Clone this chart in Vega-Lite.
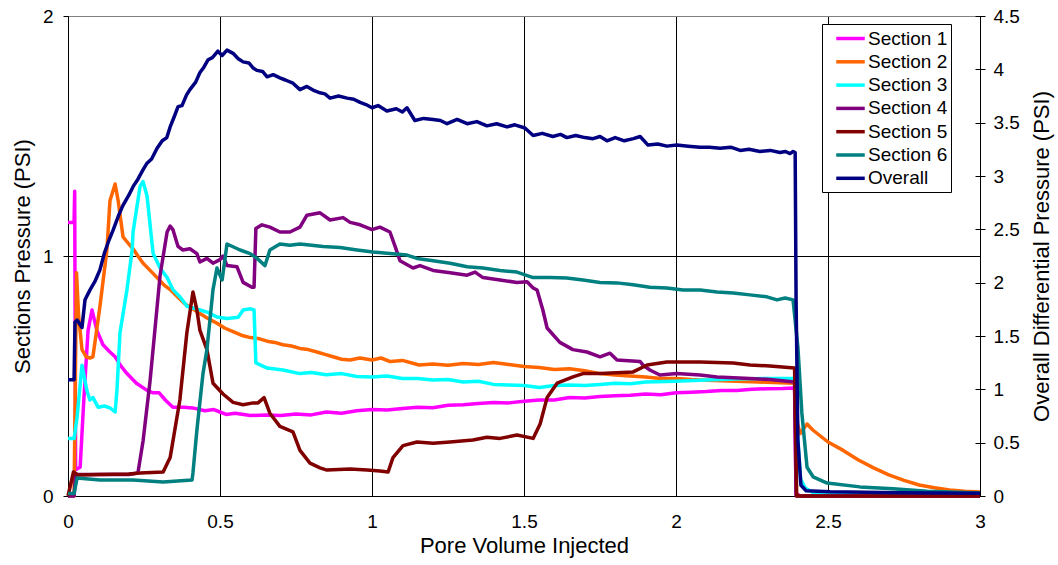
{
  "$schema": "https://vega.github.io/schema/vega-lite/v6.json",
  "width": 912,
  "height": 480,
  "autosize": {"type": "none"},
  "padding": {"left": 68, "top": 16, "right": 78, "bottom": 69},
  "background": "white",
  "config": {
    "view": {"stroke": null},
    "font": "Liberation Sans",
    "axis": {
      "labelFont": "Liberation Sans",
      "titleFont": "Liberation Sans",
      "labelFontSize": 19,
      "titleFontSize": 22,
      "titleFontWeight": "normal",
      "labelColor": "#000",
      "titleColor": "#000",
      "domainColor": "#000",
      "tickColor": "#000"
    },
    "legend": {
      "labelFont": "Liberation Sans",
      "labelFontSize": 19,
      "labelColor": "#000"
    }
  },
  "datasets": {
    "sections": [
      {"series": "Section 1", "pv": 0, "psi": 1.14},
      {"series": "Section 1", "pv": 0.02, "psi": 1.14},
      {"series": "Section 1", "pv": 0.022, "psi": 1.27},
      {"series": "Section 1", "pv": 0.025, "psi": 0.11},
      {"series": "Section 1", "pv": 0.04, "psi": 0.12},
      {"series": "Section 1", "pv": 0.052, "psi": 0.4},
      {"series": "Section 1", "pv": 0.066, "psi": 0.69},
      {"series": "Section 1", "pv": 0.079, "psi": 0.775},
      {"series": "Section 1", "pv": 0.095, "psi": 0.69},
      {"series": "Section 1", "pv": 0.115, "psi": 0.63},
      {"series": "Section 1", "pv": 0.138, "psi": 0.6},
      {"series": "Section 1", "pv": 0.155, "psi": 0.58},
      {"series": "Section 1", "pv": 0.175, "psi": 0.54},
      {"series": "Section 1", "pv": 0.194, "psi": 0.51},
      {"series": "Section 1", "pv": 0.225, "psi": 0.47},
      {"series": "Section 1", "pv": 0.26, "psi": 0.44},
      {"series": "Section 1", "pv": 0.28, "psi": 0.43},
      {"series": "Section 1", "pv": 0.3, "psi": 0.43},
      {"series": "Section 1", "pv": 0.32, "psi": 0.4},
      {"series": "Section 1", "pv": 0.345, "psi": 0.37},
      {"series": "Section 1", "pv": 0.38, "psi": 0.37},
      {"series": "Section 1", "pv": 0.41, "psi": 0.367},
      {"series": "Section 1", "pv": 0.45, "psi": 0.355},
      {"series": "Section 1", "pv": 0.48, "psi": 0.36},
      {"series": "Section 1", "pv": 0.5, "psi": 0.35},
      {"series": "Section 1", "pv": 0.52, "psi": 0.34},
      {"series": "Section 1", "pv": 0.55, "psi": 0.345},
      {"series": "Section 1", "pv": 0.6, "psi": 0.335},
      {"series": "Section 1", "pv": 0.65, "psi": 0.338},
      {"series": "Section 1", "pv": 0.7, "psi": 0.335},
      {"series": "Section 1", "pv": 0.75, "psi": 0.342},
      {"series": "Section 1", "pv": 0.8, "psi": 0.338},
      {"series": "Section 1", "pv": 0.85, "psi": 0.35},
      {"series": "Section 1", "pv": 0.9, "psi": 0.345},
      {"series": "Section 1", "pv": 0.95, "psi": 0.355},
      {"series": "Section 1", "pv": 1.0, "psi": 0.36},
      {"series": "Section 1", "pv": 1.05, "psi": 0.358},
      {"series": "Section 1", "pv": 1.1, "psi": 0.365},
      {"series": "Section 1", "pv": 1.15, "psi": 0.37},
      {"series": "Section 1", "pv": 1.2, "psi": 0.368},
      {"series": "Section 1", "pv": 1.25, "psi": 0.378},
      {"series": "Section 1", "pv": 1.3, "psi": 0.38},
      {"series": "Section 1", "pv": 1.35, "psi": 0.385},
      {"series": "Section 1", "pv": 1.4, "psi": 0.39},
      {"series": "Section 1", "pv": 1.45, "psi": 0.388},
      {"series": "Section 1", "pv": 1.5, "psi": 0.395},
      {"series": "Section 1", "pv": 1.55, "psi": 0.4},
      {"series": "Section 1", "pv": 1.6, "psi": 0.4},
      {"series": "Section 1", "pv": 1.65, "psi": 0.41},
      {"series": "Section 1", "pv": 1.7, "psi": 0.408},
      {"series": "Section 1", "pv": 1.75, "psi": 0.415},
      {"series": "Section 1", "pv": 1.8, "psi": 0.418},
      {"series": "Section 1", "pv": 1.85, "psi": 0.42},
      {"series": "Section 1", "pv": 1.9, "psi": 0.425},
      {"series": "Section 1", "pv": 1.95, "psi": 0.422},
      {"series": "Section 1", "pv": 2.0, "psi": 0.43},
      {"series": "Section 1", "pv": 2.05, "psi": 0.432},
      {"series": "Section 1", "pv": 2.1, "psi": 0.435},
      {"series": "Section 1", "pv": 2.15, "psi": 0.44},
      {"series": "Section 1", "pv": 2.2, "psi": 0.44},
      {"series": "Section 1", "pv": 2.25, "psi": 0.445},
      {"series": "Section 1", "pv": 2.3, "psi": 0.447},
      {"series": "Section 1", "pv": 2.35, "psi": 0.448},
      {"series": "Section 1", "pv": 2.39, "psi": 0.45},
      {"series": "Section 1", "pv": 2.395, "psi": 0.01},
      {"series": "Section 1", "pv": 2.41, "psi": 0.0},
      {"series": "Section 1", "pv": 3.0, "psi": 0.0},

      {"series": "Section 2", "pv": 0, "psi": 0},
      {"series": "Section 2", "pv": 0.02, "psi": 0},
      {"series": "Section 2", "pv": 0.028, "psi": 0.93},
      {"series": "Section 2", "pv": 0.035, "psi": 0.75},
      {"series": "Section 2", "pv": 0.046, "psi": 0.61},
      {"series": "Section 2", "pv": 0.06, "psi": 0.58},
      {"series": "Section 2", "pv": 0.072, "psi": 0.575},
      {"series": "Section 2", "pv": 0.082, "psi": 0.58},
      {"series": "Section 2", "pv": 0.105, "psi": 0.79},
      {"series": "Section 2", "pv": 0.128, "psi": 1.025},
      {"series": "Section 2", "pv": 0.138, "psi": 1.23},
      {"series": "Section 2", "pv": 0.155, "psi": 1.3},
      {"series": "Section 2", "pv": 0.165, "psi": 1.23},
      {"series": "Section 2", "pv": 0.181, "psi": 1.08},
      {"series": "Section 2", "pv": 0.2, "psi": 1.05},
      {"series": "Section 2", "pv": 0.214, "psi": 1.03},
      {"series": "Section 2", "pv": 0.23, "psi": 1.0},
      {"series": "Section 2", "pv": 0.247, "psi": 0.97},
      {"series": "Section 2", "pv": 0.27, "psi": 0.94},
      {"series": "Section 2", "pv": 0.293, "psi": 0.91},
      {"series": "Section 2", "pv": 0.315, "psi": 0.88},
      {"series": "Section 2", "pv": 0.336, "psi": 0.86},
      {"series": "Section 2", "pv": 0.36, "psi": 0.83},
      {"series": "Section 2", "pv": 0.385, "psi": 0.8},
      {"series": "Section 2", "pv": 0.41, "psi": 0.78},
      {"series": "Section 2", "pv": 0.434, "psi": 0.76},
      {"series": "Section 2", "pv": 0.46, "psi": 0.74},
      {"series": "Section 2", "pv": 0.49, "psi": 0.72},
      {"series": "Section 2", "pv": 0.515, "psi": 0.7},
      {"series": "Section 2", "pv": 0.543, "psi": 0.685},
      {"series": "Section 2", "pv": 0.57, "psi": 0.67},
      {"series": "Section 2", "pv": 0.6, "psi": 0.66},
      {"series": "Section 2", "pv": 0.63, "psi": 0.655},
      {"series": "Section 2", "pv": 0.655, "psi": 0.645},
      {"series": "Section 2", "pv": 0.68, "psi": 0.64},
      {"series": "Section 2", "pv": 0.707, "psi": 0.63},
      {"series": "Section 2", "pv": 0.735, "psi": 0.625},
      {"series": "Section 2", "pv": 0.763, "psi": 0.615},
      {"series": "Section 2", "pv": 0.79, "psi": 0.61},
      {"series": "Section 2", "pv": 0.819, "psi": 0.6},
      {"series": "Section 2", "pv": 0.845, "psi": 0.59},
      {"series": "Section 2", "pv": 0.872, "psi": 0.58},
      {"series": "Section 2", "pv": 0.9, "psi": 0.57},
      {"series": "Section 2", "pv": 0.928, "psi": 0.567},
      {"series": "Section 2", "pv": 0.96, "psi": 0.575},
      {"series": "Section 2", "pv": 1.0, "psi": 0.567},
      {"series": "Section 2", "pv": 1.03, "psi": 0.575},
      {"series": "Section 2", "pv": 1.06, "psi": 0.56},
      {"series": "Section 2", "pv": 1.1, "psi": 0.565},
      {"series": "Section 2", "pv": 1.155, "psi": 0.546},
      {"series": "Section 2", "pv": 1.2, "psi": 0.55},
      {"series": "Section 2", "pv": 1.25, "psi": 0.545},
      {"series": "Section 2", "pv": 1.3, "psi": 0.552},
      {"series": "Section 2", "pv": 1.35, "psi": 0.548},
      {"series": "Section 2", "pv": 1.4, "psi": 0.556},
      {"series": "Section 2", "pv": 1.45, "psi": 0.548},
      {"series": "Section 2", "pv": 1.5, "psi": 0.54},
      {"series": "Section 2", "pv": 1.55, "psi": 0.535},
      {"series": "Section 2", "pv": 1.6, "psi": 0.527},
      {"series": "Section 2", "pv": 1.65, "psi": 0.53},
      {"series": "Section 2", "pv": 1.7, "psi": 0.522},
      {"series": "Section 2", "pv": 1.75, "psi": 0.51},
      {"series": "Section 2", "pv": 1.8, "psi": 0.504},
      {"series": "Section 2", "pv": 1.85, "psi": 0.5},
      {"series": "Section 2", "pv": 1.9, "psi": 0.496},
      {"series": "Section 2", "pv": 1.95, "psi": 0.49},
      {"series": "Section 2", "pv": 2.0, "psi": 0.49},
      {"series": "Section 2", "pv": 2.05, "psi": 0.485},
      {"series": "Section 2", "pv": 2.1, "psi": 0.482},
      {"series": "Section 2", "pv": 2.15, "psi": 0.48},
      {"series": "Section 2", "pv": 2.2, "psi": 0.478},
      {"series": "Section 2", "pv": 2.25, "psi": 0.476},
      {"series": "Section 2", "pv": 2.3, "psi": 0.474},
      {"series": "Section 2", "pv": 2.39, "psi": 0.47},
      {"series": "Section 2", "pv": 2.4, "psi": 0.3},
      {"series": "Section 2", "pv": 2.408, "psi": 0.26},
      {"series": "Section 2", "pv": 2.431, "psi": 0.3},
      {"series": "Section 2", "pv": 2.45, "psi": 0.275},
      {"series": "Section 2", "pv": 2.5, "psi": 0.225},
      {"series": "Section 2", "pv": 2.55, "psi": 0.19},
      {"series": "Section 2", "pv": 2.6, "psi": 0.15},
      {"series": "Section 2", "pv": 2.65, "psi": 0.117},
      {"series": "Section 2", "pv": 2.7, "psi": 0.088},
      {"series": "Section 2", "pv": 2.75, "psi": 0.065},
      {"series": "Section 2", "pv": 2.8, "psi": 0.046},
      {"series": "Section 2", "pv": 2.85, "psi": 0.034},
      {"series": "Section 2", "pv": 2.9, "psi": 0.025},
      {"series": "Section 2", "pv": 2.95, "psi": 0.02},
      {"series": "Section 2", "pv": 3.0, "psi": 0.017},

      {"series": "Section 3", "pv": 0, "psi": 0.24},
      {"series": "Section 3", "pv": 0.02, "psi": 0.24},
      {"series": "Section 3", "pv": 0.03, "psi": 0.33},
      {"series": "Section 3", "pv": 0.046, "psi": 0.545},
      {"series": "Section 3", "pv": 0.062, "psi": 0.44},
      {"series": "Section 3", "pv": 0.072, "psi": 0.4},
      {"series": "Section 3", "pv": 0.082, "psi": 0.41},
      {"series": "Section 3", "pv": 0.099, "psi": 0.37},
      {"series": "Section 3", "pv": 0.12, "psi": 0.375},
      {"series": "Section 3", "pv": 0.138, "psi": 0.367},
      {"series": "Section 3", "pv": 0.155, "psi": 0.35},
      {"series": "Section 3", "pv": 0.161, "psi": 0.44},
      {"series": "Section 3", "pv": 0.171, "psi": 0.68},
      {"series": "Section 3", "pv": 0.194, "psi": 0.86},
      {"series": "Section 3", "pv": 0.211, "psi": 1.025},
      {"series": "Section 3", "pv": 0.214, "psi": 1.1},
      {"series": "Section 3", "pv": 0.237, "psi": 1.29},
      {"series": "Section 3", "pv": 0.247, "psi": 1.31},
      {"series": "Section 3", "pv": 0.26, "psi": 1.25},
      {"series": "Section 3", "pv": 0.28, "psi": 1.01},
      {"series": "Section 3", "pv": 0.303, "psi": 0.95},
      {"series": "Section 3", "pv": 0.326, "psi": 0.91},
      {"series": "Section 3", "pv": 0.345, "psi": 0.86},
      {"series": "Section 3", "pv": 0.368, "psi": 0.83},
      {"series": "Section 3", "pv": 0.392, "psi": 0.79},
      {"series": "Section 3", "pv": 0.434, "psi": 0.775},
      {"series": "Section 3", "pv": 0.46, "psi": 0.765},
      {"series": "Section 3", "pv": 0.49, "psi": 0.746},
      {"series": "Section 3", "pv": 0.523, "psi": 0.74},
      {"series": "Section 3", "pv": 0.56, "psi": 0.745},
      {"series": "Section 3", "pv": 0.576, "psi": 0.775},
      {"series": "Section 3", "pv": 0.6, "psi": 0.78},
      {"series": "Section 3", "pv": 0.612, "psi": 0.775},
      {"series": "Section 3", "pv": 0.618, "psi": 0.555},
      {"series": "Section 3", "pv": 0.655, "psi": 0.533},
      {"series": "Section 3", "pv": 0.707, "psi": 0.525},
      {"series": "Section 3", "pv": 0.763, "psi": 0.51},
      {"series": "Section 3", "pv": 0.8, "psi": 0.515},
      {"series": "Section 3", "pv": 0.85, "psi": 0.505},
      {"series": "Section 3", "pv": 0.9, "psi": 0.51},
      {"series": "Section 3", "pv": 0.95, "psi": 0.498},
      {"series": "Section 3", "pv": 1.0, "psi": 0.496},
      {"series": "Section 3", "pv": 1.05, "psi": 0.5},
      {"series": "Section 3", "pv": 1.1, "psi": 0.49},
      {"series": "Section 3", "pv": 1.15, "psi": 0.49},
      {"series": "Section 3", "pv": 1.2, "psi": 0.483},
      {"series": "Section 3", "pv": 1.25, "psi": 0.485},
      {"series": "Section 3", "pv": 1.3, "psi": 0.475},
      {"series": "Section 3", "pv": 1.35, "psi": 0.478},
      {"series": "Section 3", "pv": 1.4, "psi": 0.465},
      {"series": "Section 3", "pv": 1.45, "psi": 0.462},
      {"series": "Section 3", "pv": 1.5, "psi": 0.46},
      {"series": "Section 3", "pv": 1.55, "psi": 0.452},
      {"series": "Section 3", "pv": 1.6, "psi": 0.46},
      {"series": "Section 3", "pv": 1.65, "psi": 0.462},
      {"series": "Section 3", "pv": 1.7, "psi": 0.46},
      {"series": "Section 3", "pv": 1.75, "psi": 0.465},
      {"series": "Section 3", "pv": 1.8, "psi": 0.47},
      {"series": "Section 3", "pv": 1.85, "psi": 0.468},
      {"series": "Section 3", "pv": 1.9, "psi": 0.475},
      {"series": "Section 3", "pv": 2.0, "psi": 0.478},
      {"series": "Section 3", "pv": 2.1, "psi": 0.483},
      {"series": "Section 3", "pv": 2.2, "psi": 0.487},
      {"series": "Section 3", "pv": 2.3, "psi": 0.49},
      {"series": "Section 3", "pv": 2.39, "psi": 0.49},
      {"series": "Section 3", "pv": 2.4, "psi": 0.25},
      {"series": "Section 3", "pv": 2.41, "psi": 0.07},
      {"series": "Section 3", "pv": 2.425, "psi": 0.033},
      {"series": "Section 3", "pv": 2.45, "psi": 0.015},
      {"series": "Section 3", "pv": 2.6, "psi": 0.008},
      {"series": "Section 3", "pv": 3.0, "psi": 0.004},

      {"series": "Section 4", "pv": 0, "psi": 0},
      {"series": "Section 4", "pv": 0.02, "psi": 0},
      {"series": "Section 4", "pv": 0.025, "psi": 0.09},
      {"series": "Section 4", "pv": 0.2, "psi": 0.09},
      {"series": "Section 4", "pv": 0.23, "psi": 0.096},
      {"series": "Section 4", "pv": 0.247, "psi": 0.23},
      {"series": "Section 4", "pv": 0.27, "psi": 0.48},
      {"series": "Section 4", "pv": 0.303, "psi": 0.92},
      {"series": "Section 4", "pv": 0.326, "psi": 1.1},
      {"series": "Section 4", "pv": 0.336, "psi": 1.125},
      {"series": "Section 4", "pv": 0.345, "psi": 1.11},
      {"series": "Section 4", "pv": 0.362, "psi": 1.04},
      {"series": "Section 4", "pv": 0.378, "psi": 1.025},
      {"series": "Section 4", "pv": 0.401, "psi": 1.03},
      {"series": "Section 4", "pv": 0.424, "psi": 1.01},
      {"series": "Section 4", "pv": 0.434, "psi": 0.975},
      {"series": "Section 4", "pv": 0.457, "psi": 0.99},
      {"series": "Section 4", "pv": 0.477, "psi": 0.97},
      {"series": "Section 4", "pv": 0.5, "psi": 0.985},
      {"series": "Section 4", "pv": 0.51, "psi": 1.0},
      {"series": "Section 4", "pv": 0.523, "psi": 0.96},
      {"series": "Section 4", "pv": 0.556, "psi": 0.955},
      {"series": "Section 4", "pv": 0.576, "psi": 0.89},
      {"series": "Section 4", "pv": 0.605, "psi": 0.87},
      {"series": "Section 4", "pv": 0.612, "psi": 0.87},
      {"series": "Section 4", "pv": 0.618, "psi": 1.115},
      {"series": "Section 4", "pv": 0.638, "psi": 1.13},
      {"series": "Section 4", "pv": 0.664, "psi": 1.12},
      {"series": "Section 4", "pv": 0.697, "psi": 1.1},
      {"series": "Section 4", "pv": 0.73, "psi": 1.1},
      {"series": "Section 4", "pv": 0.763, "psi": 1.12},
      {"series": "Section 4", "pv": 0.786, "psi": 1.17},
      {"series": "Section 4", "pv": 0.829, "psi": 1.18},
      {"series": "Section 4", "pv": 0.862, "psi": 1.15},
      {"series": "Section 4", "pv": 0.905, "psi": 1.16},
      {"series": "Section 4", "pv": 0.928, "psi": 1.14},
      {"series": "Section 4", "pv": 0.961, "psi": 1.13},
      {"series": "Section 4", "pv": 1.0, "psi": 1.11},
      {"series": "Section 4", "pv": 1.026, "psi": 1.12},
      {"series": "Section 4", "pv": 1.059, "psi": 1.1},
      {"series": "Section 4", "pv": 1.076, "psi": 1.04},
      {"series": "Section 4", "pv": 1.092, "psi": 0.98},
      {"series": "Section 4", "pv": 1.135, "psi": 0.95},
      {"series": "Section 4", "pv": 1.158, "psi": 0.96},
      {"series": "Section 4", "pv": 1.201, "psi": 0.94},
      {"series": "Section 4", "pv": 1.257, "psi": 0.93},
      {"series": "Section 4", "pv": 1.313, "psi": 0.92},
      {"series": "Section 4", "pv": 1.339, "psi": 0.933},
      {"series": "Section 4", "pv": 1.365, "psi": 0.91},
      {"series": "Section 4", "pv": 1.421, "psi": 0.9},
      {"series": "Section 4", "pv": 1.477, "psi": 0.89},
      {"series": "Section 4", "pv": 1.51, "psi": 0.893},
      {"series": "Section 4", "pv": 1.53, "psi": 0.867},
      {"series": "Section 4", "pv": 1.543, "psi": 0.858},
      {"series": "Section 4", "pv": 1.562, "psi": 0.775},
      {"series": "Section 4", "pv": 1.576, "psi": 0.7},
      {"series": "Section 4", "pv": 1.618, "psi": 0.64},
      {"series": "Section 4", "pv": 1.661, "psi": 0.61},
      {"series": "Section 4", "pv": 1.707, "psi": 0.6},
      {"series": "Section 4", "pv": 1.75, "psi": 0.58},
      {"series": "Section 4", "pv": 1.783, "psi": 0.595},
      {"series": "Section 4", "pv": 1.806, "psi": 0.567},
      {"series": "Section 4", "pv": 1.882, "psi": 0.56},
      {"series": "Section 4", "pv": 1.891, "psi": 0.546},
      {"series": "Section 4", "pv": 1.914, "psi": 0.525},
      {"series": "Section 4", "pv": 1.947, "psi": 0.504},
      {"series": "Section 4", "pv": 2.003, "psi": 0.51},
      {"series": "Section 4", "pv": 2.079, "psi": 0.504},
      {"series": "Section 4", "pv": 2.135, "psi": 0.496},
      {"series": "Section 4", "pv": 2.243, "psi": 0.49},
      {"series": "Section 4", "pv": 2.309, "psi": 0.485},
      {"series": "Section 4", "pv": 2.39, "psi": 0.475},
      {"series": "Section 4", "pv": 2.395, "psi": 0.0},
      {"series": "Section 4", "pv": 3.0, "psi": 0.0},

      {"series": "Section 5", "pv": 0, "psi": 0},
      {"series": "Section 5", "pv": 0.018, "psi": 0.1},
      {"series": "Section 5", "pv": 0.033, "psi": 0.0875},
      {"series": "Section 5", "pv": 0.1, "psi": 0.09},
      {"series": "Section 5", "pv": 0.2, "psi": 0.092},
      {"series": "Section 5", "pv": 0.237, "psi": 0.096},
      {"series": "Section 5", "pv": 0.313, "psi": 0.1},
      {"series": "Section 5", "pv": 0.336, "psi": 0.16},
      {"series": "Section 5", "pv": 0.368, "psi": 0.4},
      {"series": "Section 5", "pv": 0.391, "psi": 0.68},
      {"series": "Section 5", "pv": 0.411, "psi": 0.85},
      {"series": "Section 5", "pv": 0.424, "psi": 0.775},
      {"series": "Section 5", "pv": 0.434, "psi": 0.69},
      {"series": "Section 5", "pv": 0.457, "psi": 0.61},
      {"series": "Section 5", "pv": 0.477, "psi": 0.47},
      {"series": "Section 5", "pv": 0.51, "psi": 0.425},
      {"series": "Section 5", "pv": 0.543, "psi": 0.39},
      {"series": "Section 5", "pv": 0.576, "psi": 0.38},
      {"series": "Section 5", "pv": 0.609, "psi": 0.388},
      {"series": "Section 5", "pv": 0.625, "psi": 0.388},
      {"series": "Section 5", "pv": 0.645, "psi": 0.41},
      {"series": "Section 5", "pv": 0.664, "psi": 0.345},
      {"series": "Section 5", "pv": 0.697, "psi": 0.29},
      {"series": "Section 5", "pv": 0.74, "psi": 0.267},
      {"series": "Section 5", "pv": 0.763, "psi": 0.19},
      {"series": "Section 5", "pv": 0.796, "psi": 0.137},
      {"series": "Section 5", "pv": 0.829, "psi": 0.117},
      {"series": "Section 5", "pv": 0.852, "psi": 0.108},
      {"series": "Section 5", "pv": 0.928, "psi": 0.112},
      {"series": "Section 5", "pv": 0.984, "psi": 0.108},
      {"series": "Section 5", "pv": 1.026, "psi": 0.104},
      {"series": "Section 5", "pv": 1.053, "psi": 0.1},
      {"series": "Section 5", "pv": 1.069, "psi": 0.16},
      {"series": "Section 5", "pv": 1.102, "psi": 0.21},
      {"series": "Section 5", "pv": 1.148, "psi": 0.225},
      {"series": "Section 5", "pv": 1.201, "psi": 0.22},
      {"series": "Section 5", "pv": 1.257, "psi": 0.225},
      {"series": "Section 5", "pv": 1.332, "psi": 0.233},
      {"series": "Section 5", "pv": 1.378, "psi": 0.245},
      {"series": "Section 5", "pv": 1.421, "psi": 0.24},
      {"series": "Section 5", "pv": 1.477, "psi": 0.254},
      {"series": "Section 5", "pv": 1.53, "psi": 0.24},
      {"series": "Section 5", "pv": 1.553, "psi": 0.3},
      {"series": "Section 5", "pv": 1.576, "psi": 0.41},
      {"series": "Section 5", "pv": 1.609, "psi": 0.47},
      {"series": "Section 5", "pv": 1.661, "psi": 0.496},
      {"series": "Section 5", "pv": 1.694, "psi": 0.51},
      {"series": "Section 5", "pv": 1.75, "psi": 0.51},
      {"series": "Section 5", "pv": 1.859, "psi": 0.517},
      {"series": "Section 5", "pv": 1.905, "psi": 0.546},
      {"series": "Section 5", "pv": 1.97, "psi": 0.558},
      {"series": "Section 5", "pv": 2.079, "psi": 0.558},
      {"series": "Section 5", "pv": 2.188, "psi": 0.554},
      {"series": "Section 5", "pv": 2.243, "psi": 0.546},
      {"series": "Section 5", "pv": 2.309, "psi": 0.542},
      {"series": "Section 5", "pv": 2.39, "psi": 0.533},
      {"series": "Section 5", "pv": 2.397, "psi": 0.0},
      {"series": "Section 5", "pv": 3.0, "psi": 0.0},

      {"series": "Section 6", "pv": 0, "psi": 0.01},
      {"series": "Section 6", "pv": 0.02, "psi": 0.01},
      {"series": "Section 6", "pv": 0.03, "psi": 0.075},
      {"series": "Section 6", "pv": 0.105, "psi": 0.067},
      {"series": "Section 6", "pv": 0.214, "psi": 0.067},
      {"series": "Section 6", "pv": 0.313, "psi": 0.058},
      {"series": "Section 6", "pv": 0.408, "psi": 0.067},
      {"series": "Section 6", "pv": 0.411, "psi": 0.096},
      {"series": "Section 6", "pv": 0.424, "psi": 0.275},
      {"series": "Section 6", "pv": 0.444, "psi": 0.51},
      {"series": "Section 6", "pv": 0.457, "psi": 0.61},
      {"series": "Section 6", "pv": 0.477, "psi": 0.86},
      {"series": "Section 6", "pv": 0.49, "psi": 0.95},
      {"series": "Section 6", "pv": 0.507, "psi": 0.9},
      {"series": "Section 6", "pv": 0.523, "psi": 1.05},
      {"series": "Section 6", "pv": 0.566, "psi": 1.025},
      {"series": "Section 6", "pv": 0.599, "psi": 1.01},
      {"series": "Section 6", "pv": 0.622, "psi": 0.99},
      {"series": "Section 6", "pv": 0.648, "psi": 0.96},
      {"series": "Section 6", "pv": 0.664, "psi": 1.025},
      {"series": "Section 6", "pv": 0.697, "psi": 1.05},
      {"series": "Section 6", "pv": 0.73, "psi": 1.045},
      {"series": "Section 6", "pv": 0.763, "psi": 1.05},
      {"series": "Section 6", "pv": 0.839, "psi": 1.04},
      {"series": "Section 6", "pv": 0.895, "psi": 1.035},
      {"series": "Section 6", "pv": 0.951, "psi": 1.025},
      {"series": "Section 6", "pv": 1.003, "psi": 1.017},
      {"series": "Section 6", "pv": 1.059, "psi": 1.01},
      {"series": "Section 6", "pv": 1.115, "psi": 1.004},
      {"series": "Section 6", "pv": 1.148, "psi": 0.99},
      {"series": "Section 6", "pv": 1.201, "psi": 0.98},
      {"series": "Section 6", "pv": 1.257, "psi": 0.97},
      {"series": "Section 6", "pv": 1.313, "psi": 0.955},
      {"series": "Section 6", "pv": 1.365, "psi": 0.95},
      {"series": "Section 6", "pv": 1.421, "psi": 0.94},
      {"series": "Section 6", "pv": 1.477, "psi": 0.933},
      {"series": "Section 6", "pv": 1.53, "psi": 0.91},
      {"series": "Section 6", "pv": 1.586, "psi": 0.91},
      {"series": "Section 6", "pv": 1.641, "psi": 0.908},
      {"series": "Section 6", "pv": 1.694, "psi": 0.9},
      {"series": "Section 6", "pv": 1.75, "psi": 0.89},
      {"series": "Section 6", "pv": 1.806, "psi": 0.888},
      {"series": "Section 6", "pv": 1.859, "psi": 0.88},
      {"series": "Section 6", "pv": 1.914, "psi": 0.87},
      {"series": "Section 6", "pv": 1.97, "psi": 0.867},
      {"series": "Section 6", "pv": 2.023, "psi": 0.858},
      {"series": "Section 6", "pv": 2.079, "psi": 0.858},
      {"series": "Section 6", "pv": 2.135, "psi": 0.85},
      {"series": "Section 6", "pv": 2.188, "psi": 0.846},
      {"series": "Section 6", "pv": 2.243, "psi": 0.838},
      {"series": "Section 6", "pv": 2.299, "psi": 0.83},
      {"series": "Section 6", "pv": 2.332, "psi": 0.817},
      {"series": "Section 6", "pv": 2.359, "psi": 0.825},
      {"series": "Section 6", "pv": 2.385, "psi": 0.817},
      {"series": "Section 6", "pv": 2.401, "psi": 0.62},
      {"series": "Section 6", "pv": 2.414, "psi": 0.346},
      {"series": "Section 6", "pv": 2.431, "psi": 0.12},
      {"series": "Section 6", "pv": 2.451, "psi": 0.08},
      {"series": "Section 6", "pv": 2.497, "psi": 0.054},
      {"series": "Section 6", "pv": 2.605, "psi": 0.038},
      {"series": "Section 6", "pv": 2.714, "psi": 0.03},
      {"series": "Section 6", "pv": 2.826, "psi": 0.02},
      {"series": "Section 6", "pv": 3.0, "psi": 0.012}
    ],
    "overall": [
      {"series": "Overall", "pv": 0, "psi": 1.09},
      {"series": "Overall", "pv": 0.02, "psi": 1.09},
      {"series": "Overall", "pv": 0.023, "psi": 1.63},
      {"series": "Overall", "pv": 0.03, "psi": 1.65},
      {"series": "Overall", "pv": 0.046, "psi": 1.58},
      {"series": "Overall", "pv": 0.056, "psi": 1.84},
      {"series": "Overall", "pv": 0.072, "psi": 1.93},
      {"series": "Overall", "pv": 0.09, "psi": 2.02},
      {"series": "Overall", "pv": 0.105, "psi": 2.12},
      {"series": "Overall", "pv": 0.12, "psi": 2.28},
      {"series": "Overall", "pv": 0.135, "psi": 2.4},
      {"series": "Overall", "pv": 0.148, "psi": 2.49},
      {"series": "Overall", "pv": 0.165, "psi": 2.62},
      {"series": "Overall", "pv": 0.18, "psi": 2.72},
      {"series": "Overall", "pv": 0.2, "psi": 2.82},
      {"series": "Overall", "pv": 0.214, "psi": 2.9},
      {"series": "Overall", "pv": 0.23, "psi": 2.97},
      {"series": "Overall", "pv": 0.247, "psi": 3.06},
      {"series": "Overall", "pv": 0.26, "psi": 3.12},
      {"series": "Overall", "pv": 0.275, "psi": 3.16},
      {"series": "Overall", "pv": 0.293, "psi": 3.26},
      {"series": "Overall", "pv": 0.31, "psi": 3.33},
      {"series": "Overall", "pv": 0.325, "psi": 3.36},
      {"series": "Overall", "pv": 0.336, "psi": 3.46},
      {"series": "Overall", "pv": 0.35, "psi": 3.56},
      {"series": "Overall", "pv": 0.362, "psi": 3.65},
      {"series": "Overall", "pv": 0.375, "psi": 3.66},
      {"series": "Overall", "pv": 0.39, "psi": 3.76},
      {"series": "Overall", "pv": 0.401, "psi": 3.81},
      {"series": "Overall", "pv": 0.42, "psi": 3.88},
      {"series": "Overall", "pv": 0.434, "psi": 3.97},
      {"series": "Overall", "pv": 0.447, "psi": 4.02},
      {"series": "Overall", "pv": 0.461, "psi": 4.09},
      {"series": "Overall", "pv": 0.475, "psi": 4.11},
      {"series": "Overall", "pv": 0.493, "psi": 4.17},
      {"series": "Overall", "pv": 0.507, "psi": 4.13},
      {"series": "Overall", "pv": 0.523, "psi": 4.18},
      {"series": "Overall", "pv": 0.543, "psi": 4.15},
      {"series": "Overall", "pv": 0.56, "psi": 4.1},
      {"series": "Overall", "pv": 0.576, "psi": 4.07},
      {"series": "Overall", "pv": 0.595, "psi": 4.06},
      {"series": "Overall", "pv": 0.61, "psi": 4.01},
      {"series": "Overall", "pv": 0.622, "psi": 3.99},
      {"series": "Overall", "pv": 0.64, "psi": 3.98},
      {"series": "Overall", "pv": 0.655, "psi": 3.93},
      {"series": "Overall", "pv": 0.675, "psi": 3.95},
      {"series": "Overall", "pv": 0.697, "psi": 3.92},
      {"series": "Overall", "pv": 0.715, "psi": 3.9},
      {"series": "Overall", "pv": 0.74, "psi": 3.87},
      {"series": "Overall", "pv": 0.763, "psi": 3.81},
      {"series": "Overall", "pv": 0.786, "psi": 3.84},
      {"series": "Overall", "pv": 0.81, "psi": 3.8},
      {"series": "Overall", "pv": 0.829, "psi": 3.78},
      {"series": "Overall", "pv": 0.845, "psi": 3.77},
      {"series": "Overall", "pv": 0.862, "psi": 3.73},
      {"series": "Overall", "pv": 0.89, "psi": 3.75},
      {"series": "Overall", "pv": 0.918, "psi": 3.73},
      {"series": "Overall", "pv": 0.94, "psi": 3.72},
      {"series": "Overall", "pv": 0.961, "psi": 3.69},
      {"series": "Overall", "pv": 0.98, "psi": 3.67},
      {"series": "Overall", "pv": 1.0, "psi": 3.64},
      {"series": "Overall", "pv": 1.02, "psi": 3.66},
      {"series": "Overall", "pv": 1.049, "psi": 3.61},
      {"series": "Overall", "pv": 1.08, "psi": 3.63},
      {"series": "Overall", "pv": 1.1, "psi": 3.6},
      {"series": "Overall", "pv": 1.115, "psi": 3.64},
      {"series": "Overall", "pv": 1.141, "psi": 3.52},
      {"series": "Overall", "pv": 1.17, "psi": 3.54},
      {"series": "Overall", "pv": 1.201, "psi": 3.53},
      {"series": "Overall", "pv": 1.225, "psi": 3.52},
      {"series": "Overall", "pv": 1.247, "psi": 3.49},
      {"series": "Overall", "pv": 1.28, "psi": 3.53},
      {"series": "Overall", "pv": 1.313, "psi": 3.49},
      {"series": "Overall", "pv": 1.345, "psi": 3.51},
      {"series": "Overall", "pv": 1.378, "psi": 3.47},
      {"series": "Overall", "pv": 1.41, "psi": 3.49},
      {"series": "Overall", "pv": 1.444, "psi": 3.46},
      {"series": "Overall", "pv": 1.47, "psi": 3.48},
      {"series": "Overall", "pv": 1.503, "psi": 3.45},
      {"series": "Overall", "pv": 1.53, "psi": 3.38},
      {"series": "Overall", "pv": 1.56, "psi": 3.4},
      {"series": "Overall", "pv": 1.595, "psi": 3.37},
      {"series": "Overall", "pv": 1.62, "psi": 3.39},
      {"series": "Overall", "pv": 1.641, "psi": 3.36},
      {"series": "Overall", "pv": 1.67, "psi": 3.38},
      {"series": "Overall", "pv": 1.7, "psi": 3.36},
      {"series": "Overall", "pv": 1.727, "psi": 3.35},
      {"series": "Overall", "pv": 1.75, "psi": 3.37},
      {"series": "Overall", "pv": 1.773, "psi": 3.33},
      {"series": "Overall", "pv": 1.8, "psi": 3.36},
      {"series": "Overall", "pv": 1.83, "psi": 3.33},
      {"series": "Overall", "pv": 1.86, "psi": 3.35},
      {"series": "Overall", "pv": 1.882, "psi": 3.37},
      {"series": "Overall", "pv": 1.908, "psi": 3.29},
      {"series": "Overall", "pv": 1.94, "psi": 3.3},
      {"series": "Overall", "pv": 1.97, "psi": 3.28},
      {"series": "Overall", "pv": 2.003, "psi": 3.29},
      {"series": "Overall", "pv": 2.04, "psi": 3.28},
      {"series": "Overall", "pv": 2.079, "psi": 3.27},
      {"series": "Overall", "pv": 2.11, "psi": 3.27},
      {"series": "Overall", "pv": 2.145, "psi": 3.26},
      {"series": "Overall", "pv": 2.18, "psi": 3.27},
      {"series": "Overall", "pv": 2.211, "psi": 3.24},
      {"series": "Overall", "pv": 2.24, "psi": 3.25},
      {"series": "Overall", "pv": 2.276, "psi": 3.23},
      {"series": "Overall", "pv": 2.31, "psi": 3.24},
      {"series": "Overall", "pv": 2.342, "psi": 3.22},
      {"series": "Overall", "pv": 2.36, "psi": 3.23},
      {"series": "Overall", "pv": 2.375, "psi": 3.21},
      {"series": "Overall", "pv": 2.385, "psi": 3.23},
      {"series": "Overall", "pv": 2.392, "psi": 3.22},
      {"series": "Overall", "pv": 2.395, "psi": 1.84},
      {"series": "Overall", "pv": 2.401, "psi": 0.52},
      {"series": "Overall", "pv": 2.411, "psi": 0.1},
      {"series": "Overall", "pv": 2.428, "psi": 0.05},
      {"series": "Overall", "pv": 2.507, "psi": 0.04},
      {"series": "Overall", "pv": 2.737, "psi": 0.03},
      {"series": "Overall", "pv": 3.0, "psi": 0.025}
    ]
  },
  "encoding": {
    "x": {
      "field": "pv",
      "type": "quantitative",
      "scale": {"domain": [0, 3], "nice": false},
      "axis": {
        "title": "Pore Volume Injected",
        "values": [0, 0.5, 1, 1.5, 2, 2.5, 3],
        "format": "~g",
        "grid": true,
        "gridColor": "#000",
        "gridOpacity": 1,
        "gridWidth": 1,
        "ticks": false,
        "tickSize": 0,
        "labelPadding": 16,
        "labelFlush": false,
        "titleY": 49,
        "titleBaseline": "middle"
      }
    },
    "color": {
      "field": "series",
      "type": "nominal",
      "scale": {
        "domain": ["Section 1", "Section 2", "Section 3", "Section 4", "Section 5", "Section 6", "Overall"],
        "range": ["#FF00FF", "#FF6600", "#00FFFF", "#800080", "#800000", "#008080", "#000080"]
      },
      "legend": {
        "title": null,
        "orient": "none",
        "legendX": 754,
        "legendY": 8,
        "symbolType": "M-1.5,0H1.5",
        "symbolSize": 361,
        "symbolStrokeWidth": 3.5,
        "symbolOffset": 14,
        "labelOffset": 6,
        "rowPadding": 1.3,
        "padding": 3,
        "strokeColor": "#000",
        "fillColor": "#fff"
      }
    }
  },
  "layer": [
    {
      "data": {"name": "sections"},
      "mark": {"type": "line", "strokeWidth": 3.5, "strokeJoin": "round"},
      "encoding": {
        "y": {
          "field": "psi",
          "type": "quantitative",
          "scale": {"domain": [0, 2], "nice": false},
          "axis": {
            "title": "Sections Pressure (PSI)",
            "values": [0, 1, 2],
            "format": "~g",
            "grid": true,
            "gridOpacity": 1,
            "gridColor": {"condition": {"test": "datum.value == 2", "value": "#808080"}, "value": "#000"},
            "tickSize": 5,
            "labelPadding": 10,
            "titleX": -46,
            "titleY": 240,
            "titleBaseline": "middle"
          }
        }
      }
    },
    {
      "data": {"name": "overall"},
      "mark": {"type": "line", "strokeWidth": 3.5, "strokeJoin": "round"},
      "encoding": {
        "y": {
          "field": "psi",
          "type": "quantitative",
          "scale": {"domain": [0, 4.5], "nice": false},
          "axis": {
            "orient": "right",
            "title": "Overall Differential Pressure (PSI)",
            "values": [0, 0.5, 1, 1.5, 2, 2.5, 3, 3.5, 4, 4.5],
            "format": "~g",
            "grid": false,
            "domain": false,
            "offset": -5,
            "tickSize": 10,
            "labelPadding": 8,
            "titleAngle": 270,
            "titleX": 66,
            "titleY": 240,
            "titleBaseline": "middle"
          }
        }
      }
    }
  ],
  "resolve": {"scale": {"y": "independent"}}
}
